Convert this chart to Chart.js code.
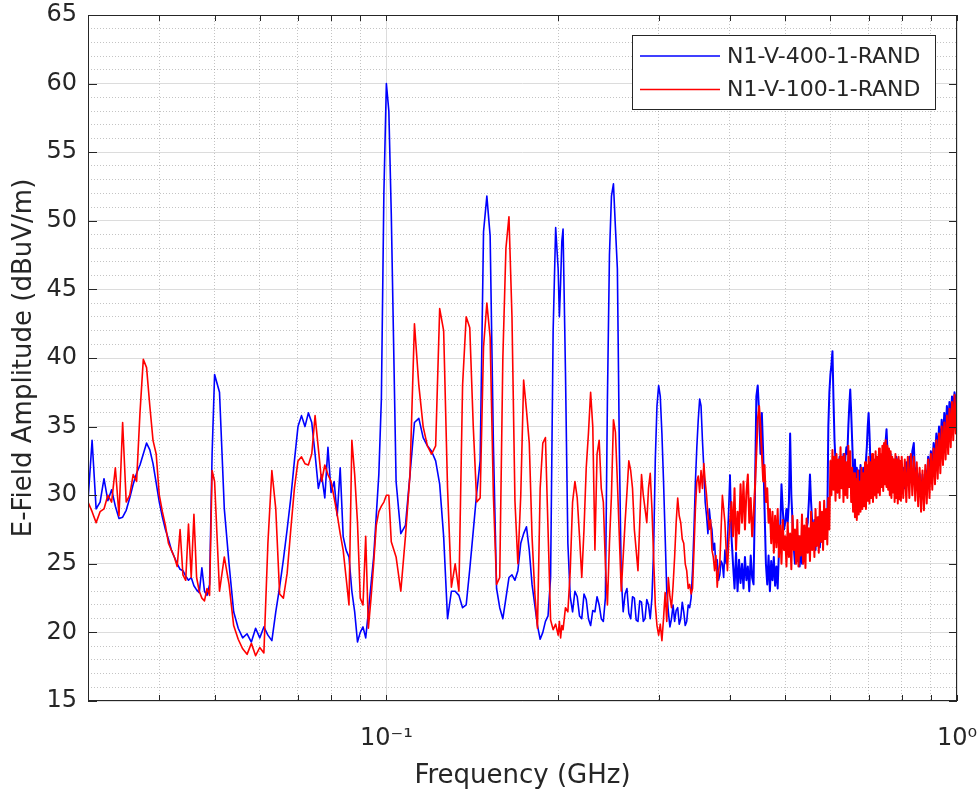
<!DOCTYPE html>
<html>
<head>
<meta charset="utf-8">
<title>E-Field spectrum</title>
<script src="https://cdn.jsdelivr.net/npm/chart.js@4.4.1/dist/chart.umd.min.js"></script>
<style>
  html, body { margin: 0; padding: 0; background: #fff; }
  #wrap { width: 978px; height: 793px; }
</style>
</head>
<body>
<div id="wrap"><canvas id="spectrumChart" width="978" height="793"></canvas></div>
<script>
// frequency points in MHz
const freqMHz = [
  30, 30.5, 31, 31.5, 32, 32.5, 33, 33.5, 34, 34.5,
  35, 35.5, 36, 36.5, 37, 37.5, 38, 38.5, 39, 39.5,
  40, 40.5, 41, 41.5, 42, 42.5, 43, 43.5, 44, 44.5,
  45, 45.5, 46, 46.5, 47, 47.5, 48, 48.5, 49, 49.5,
  50,
  51, 52, 53, 54, 55, 56, 57, 58, 59, 60,
  61, 62, 63, 64, 65, 66, 67, 68, 69, 70,
  71, 72, 73, 74, 75, 76, 77, 78, 79, 80,
  81, 82, 83, 84, 85, 86, 87, 88, 89, 90,
  91, 92, 93, 94, 95, 96, 97, 98, 99, 100,
  101,
  102, 104, 106, 108, 110, 112, 114, 116, 118, 120,
  122, 124, 126, 128, 130, 132, 134, 136, 138, 140,
  142, 144, 146, 148, 150, 152, 154, 156, 158, 160,
  162, 164, 166, 168, 170, 172, 174, 176, 178, 180,
  182, 184, 186, 188, 190, 192, 194, 196, 198, 200,
  201, 202, 203,
  204, 206, 208, 210, 212, 214, 216, 218, 220, 222,
  224, 226, 228, 230, 232, 234, 236, 238, 240, 242,
  244, 246, 248, 250, 252, 254, 256, 258, 260, 262,
  264, 266, 268, 270, 272, 274, 276, 278, 280, 282,
  284, 286, 288, 290, 292, 294, 296, 298, 300, 302,
  304, 306, 308, 310, 312, 314, 316, 318, 320, 322,
  324, 326, 328, 330, 332, 334, 336, 338, 340, 342,
  344, 346, 348, 350, 352, 354, 356, 358, 360, 362,
  364, 366, 368, 370, 372, 374, 376, 378, 380, 382,
  384, 386, 388, 390, 392, 394, 396, 398, 400,
  402.5, 405, 407.5, 410, 412.5, 415, 417.5, 420,
  422.5, 425, 427.5, 430, 432.5, 435, 437.5, 440,
  442.5, 445, 447.5, 450, 452.5, 455, 457.5, 460,
  462.5, 465, 467.5, 470, 472.5, 475, 477.5, 480,
  482.5, 485, 487.5, 490, 492.5, 495, 497.5, 500,
  502.5, 505, 507.5, 510, 512.5, 515, 517.5, 520,
  522.5, 525, 527.5, 530, 532.5, 535, 537.5, 540,
  542.5, 545, 547.5, 550, 552.5, 555, 557.5, 560,
  562.5, 565, 567.5, 570, 572.5, 575, 577.5, 580,
  582.5, 585, 587.5, 590, 592.5, 595, 597.5, 600,
  602.5, 605, 607.5, 610, 612.5, 615, 617.5, 620,
  622.5, 625, 627.5, 630, 632.5, 635, 637.5, 640,
  642.5, 645, 647.5, 650, 652.5, 655, 657.5, 660,
  662.5, 665, 667.5, 670, 672.5, 675, 677.5, 680,
  682.5, 685, 687.5, 690, 692.5, 695, 697.5, 700,
  702.5, 705, 707.5, 710, 712.5, 715, 717.5, 720,
  722.5, 725, 727.5, 730, 732.5, 735, 737.5, 740,
  742.5, 745, 747.5, 750, 752.5, 755, 757.5, 760,
  762.5, 765, 767.5, 770, 772.5, 775, 777.5, 780,
  782.5, 785, 787.5, 790, 792.5, 795, 797.5, 800,
  805, 810, 815, 820, 825, 830, 835, 840, 845, 850,
  855, 860, 865, 870, 875, 880, 885, 890, 895, 900,
  905, 910, 915, 920, 925, 930, 935, 940, 945, 950,
  955, 960, 965, 970, 975, 980, 985, 990, 995, 1000
];

// N1-V-400-1-RAND, dBuV/m
const blueDb = [
  29.6, 34.0, 29.0, 29.5, 31.2, 29.6, 30.4, 29.2, 28.3, 28.4,
  28.9, 29.8, 30.8, 31.6, 32.2, 33.0, 33.8, 33.3, 32.3, 30.9,
  29.5, 28.4, 27.5, 26.8, 26.0, 25.5, 25.0, 24.6, 24.5, 24.1,
  23.8, 24.0, 23.4, 23.1, 22.9, 24.7, 23.0, 22.7, 23.5, 33.0,
  38.8,
  37.5, 29.0, 25.0, 21.5, 20.3, 19.6, 19.9, 19.3, 20.3, 19.6,
  20.4, 19.8, 19.4, 21.5, 23.3, 25.3, 27.5, 29.8, 32.5, 35.0,
  35.8, 35.0, 36.0, 35.3, 33.0, 30.5, 31.5, 29.8, 33.5, 30.2,
  31.0, 28.5, 32.0, 27.0, 26.0, 25.5, 23.0, 21.5, 19.3, 20.0,
  20.4, 19.6, 21.5, 23.5, 25.5, 28.5, 31.5, 37.0, 52.0, 60.0,
  58.0,
  50.5, 31.0, 27.2, 27.8, 31.5, 35.3, 35.6, 34.2, 33.6, 33.2,
  32.5, 30.8, 27.0, 21.0, 23.0, 23.0, 22.7, 21.8, 22.0, 24.6,
  27.4, 30.2, 32.5, 49.2, 51.8, 48.9, 33.8, 23.2, 21.8, 21.0,
  22.5, 24.0, 24.2, 23.8, 24.5, 26.5, 27.2, 27.7, 26.0, 23.5,
  22.0, 20.5, 19.5, 20.0, 20.8, 21.2, 24.0, 42.0, 49.5, 46.5,
  43.0, 45.5, 48.5,
  49.4, 39.0, 26.5, 22.6, 21.5, 23.0, 22.6, 21.2, 21.0, 22.8,
  22.4, 21.0, 20.5, 21.6, 21.5, 22.6, 22.0, 21.0, 20.8, 22.5,
  37.0, 47.5, 51.8, 52.7, 49.5, 46.5, 33.5, 24.0, 21.5, 22.8,
  23.2, 21.4, 21.0, 22.6, 22.5, 20.9, 20.8, 22.3, 22.2, 20.8,
  21.0, 22.4, 22.0, 21.0, 22.5, 26.0, 32.6, 36.5, 38.0, 37.2,
  34.5, 31.0, 27.0, 23.0, 21.5, 20.4, 21.0, 22.0, 20.8, 21.6,
  21.8, 20.6, 21.0, 22.2, 21.5, 20.5, 20.8, 22.0, 21.8, 22.5,
  24.5, 27.5, 31.0, 33.5, 35.5, 37.0, 36.5, 34.0, 32.0, 29.5,
  28.5, 27.2, 29.0, 28.0, 27.5, 26.0, 26.5, 24.8, 25.3, 23.8,
  24.2, 25.2, 25.0, 24.0, 26.0, 25.0, 26.5, 29.0, 31.5,
  27.0, 25.0, 23.2, 25.8, 23.0, 25.3, 23.6, 25.0,
  23.2, 25.5, 23.8, 24.8, 23.0, 25.6, 24.0, 23.5,
  30.0, 37.2, 38.0, 36.0, 33.0, 36.0, 33.0, 29.0,
  25.0, 23.5, 25.6, 23.0, 25.2, 23.8, 25.5, 23.4,
  24.8, 23.2, 26.0, 27.5, 30.8, 29.0, 27.5, 28.0,
  29.0, 28.0, 29.5, 34.5, 30.0, 28.0, 26.2, 25.0,
  26.8, 25.2, 27.0, 24.8, 26.5, 25.0, 27.2, 25.2,
  26.6, 27.5, 28.0, 29.5, 31.5, 29.5, 28.0, 26.5,
  28.2, 26.0, 28.0, 26.5, 28.4, 26.2, 28.2, 26.6,
  28.5, 26.8, 28.3, 27.0, 28.0, 35.0, 37.5, 38.8,
  39.5, 40.5, 37.0, 34.0, 32.5, 31.0, 30.2, 31.8,
  32.8, 31.0, 32.5, 30.8, 33.0, 30.6, 32.8, 33.5,
  33.0, 35.0, 36.5, 37.7, 36.0, 34.0, 32.0, 31.0,
  32.6, 30.5, 32.0, 30.0, 31.8, 30.4, 32.2, 30.2,
  31.5, 32.0, 30.6, 31.0, 32.5, 33.5, 35.0, 36.0,
  34.5, 32.5, 31.0, 32.8, 31.0, 32.6, 30.8, 31.2,
  32.8, 30.8, 32.5, 31.0, 33.0, 31.2, 32.8, 31.6,
  32.8, 33.5, 33.0, 34.0, 34.8, 33.5, 32.5, 32.8,
  31.6, 33.0, 31.5, 32.6, 30.8, 32.6, 31.2, 31.0,
  32.8, 32.5, 30.8, 32.6, 30.8, 32.2, 30.6, 31.8,
  32.0, 30.5, 32.4, 31.0, 32.8, 31.2, 33.2, 33.8, 31.0, 32.0,
  30.4, 31.6, 30.0, 31.5, 29.8, 31.8, 31.0, 32.8, 31.5, 33.2,
  32.0, 33.8, 32.5, 34.5, 33.0, 35.0, 33.5, 35.5, 34.0, 36.0,
  34.5, 36.5, 35.0, 36.8, 35.5, 37.2, 36.0, 37.5, 36.4, 37.5
];

// N1-V-100-1-RAND, dBuV/m
const redDb = [
  29.5, 28.8, 28.0, 28.8, 29.0, 30.0, 29.5, 32.0, 28.5, 35.3,
  29.5, 30.0, 31.5, 31.0, 36.0, 39.9, 39.3, 36.5, 34.0, 33.0,
  30.0, 28.8, 27.8, 26.5, 26.0, 25.5, 24.8, 27.5, 24.2, 23.8,
  27.9, 24.0, 28.6, 24.0, 23.0, 22.5, 22.3, 23.2, 22.7, 31.8,
  31.0,
  23.0, 25.5, 23.5, 20.5, 19.5, 18.8, 18.4, 19.2, 18.3, 18.9,
  18.5, 26.5, 31.8, 29.0, 22.8, 22.5, 24.3, 27.5, 30.5, 32.5,
  32.8, 32.3, 32.2, 33.0, 35.8, 33.4, 31.0, 32.2, 31.5, 31.0,
  29.8, 28.6, 27.2, 26.0, 24.0, 22.0, 34.0, 31.5, 28.0, 22.5,
  22.0, 27.0, 20.3, 22.5, 25.0, 27.8, 28.8, 29.2, 29.5, 30.0,
  30.0,
  26.6, 25.5, 23.0, 27.0, 31.5, 42.5, 38.0, 35.0, 33.6, 33.0,
  33.6, 43.6, 42.0, 30.5, 23.3, 25.0, 23.0, 38.0, 43.0, 42.2,
  35.0, 29.5, 29.8, 40.8, 44.0, 41.5, 30.0, 23.5, 24.0, 40.0,
  48.0, 50.3, 43.0, 29.6, 25.0, 30.0, 38.4, 36.2, 33.8, 27.0,
  22.9, 20.3, 30.5, 33.8, 34.2, 27.5, 20.9, 20.2, 20.6, 19.8,
  20.8, 19.6, 20.5,
  20.2, 21.8, 21.5, 24.5, 29.5, 31.0, 29.8, 27.0, 24.0, 27.5,
  32.0, 34.5, 37.5, 35.0, 26.0, 33.0, 34.0, 30.5, 29.5, 25.0,
  22.0, 26.5, 30.0, 35.5, 34.6, 31.0, 27.0, 23.0, 25.5, 28.0,
  30.2, 32.5, 31.8, 30.5, 27.5, 26.0, 24.5, 28.0, 31.5, 30.0,
  29.0, 28.0, 30.5, 31.6, 29.0, 25.5, 22.0, 20.5, 19.8, 20.6,
  19.4, 21.0, 22.9, 20.8, 24.0, 22.6, 21.8, 23.4, 25.5, 28.0,
  29.8, 28.5, 28.0, 26.8, 26.5, 25.0, 24.5, 23.2, 23.5, 22.8,
  23.2, 26.0, 29.0, 31.0, 31.4, 30.2, 31.8, 30.5, 32.3, 31.0,
  30.0, 28.6, 27.5, 28.2, 26.0, 25.5, 24.5, 25.6, 23.3, 24.5,
  25.0, 27.5, 30.0, 29.0, 28.0, 26.0, 24.5, 26.5, 28.0,
  29.5, 27.0, 30.5, 26.0, 28.8, 27.2, 30.8, 28.0,
  31.0, 27.5, 30.2, 31.5, 28.0, 29.8, 27.0, 28.5,
  30.5, 33.0, 35.5, 36.5, 35.0, 33.0, 31.0, 32.2,
  29.5, 30.5, 28.0, 29.0, 26.5, 28.8, 25.8, 28.5,
  26.2, 29.0, 25.5, 27.8, 25.0, 28.2, 26.0, 27.0,
  24.8, 28.0, 25.5, 27.2, 24.6, 28.5, 26.0, 27.5,
  25.0, 28.2, 24.8, 27.0, 25.6, 28.6, 25.0, 27.8,
  24.7, 28.3, 25.8, 27.6, 25.2, 28.8, 26.0, 28.0,
  25.5, 29.0, 26.3, 28.4, 25.8, 29.5, 26.6, 28.8,
  26.0, 29.6, 26.8, 29.0, 26.4, 29.8, 27.5, 32.5,
  30.0, 33.3, 30.4, 32.8, 29.6, 33.0, 30.2, 32.6,
  29.8, 33.5, 30.5, 32.8, 29.5, 33.0, 30.0, 32.4,
  29.8, 33.6, 30.6, 33.2, 29.5, 32.0, 28.8, 31.6,
  28.4, 31.2, 28.2, 31.8, 28.6, 31.0, 28.8, 32.0,
  29.0, 31.6, 29.2, 32.4, 29.0, 32.2, 29.6, 32.8,
  29.4, 32.4, 29.8, 33.0, 29.5, 32.6, 30.0, 33.2,
  29.8, 32.8, 30.2, 33.4, 30.0, 33.0, 30.6, 33.6,
  30.3, 33.8, 30.8, 34.0, 30.6, 33.6, 30.4, 33.4,
  30.0, 33.2, 29.8, 32.8, 30.2, 32.6, 29.5, 33.0,
  29.8, 32.6, 29.4, 32.8, 29.7, 32.5, 29.6, 32.8,
  29.8, 32.6, 29.5, 32.8, 29.8, 33.0, 30.0, 32.8, 29.6, 32.4,
  29.2, 32.0, 28.8, 31.8, 28.9, 32.2, 29.4, 32.6, 29.8, 33.0,
  30.4, 33.4, 30.8, 34.0, 31.2, 34.5, 31.6, 35.0, 32.2, 35.3,
  32.6, 35.8, 33.0, 36.3, 33.5, 36.8, 34.0, 37.3, 34.5, 37.0
];

const seriesLabels = ['N1-V-400-1-RAND', 'N1-V-100-1-RAND'];
const seriesColors = ['#0000ff', '#ff0000'];

// axis ticks (GHz)
const xGridValues = [0.03, 0.04, 0.05, 0.06, 0.07, 0.08, 0.09, 0.1, 0.2, 0.3, 0.4, 0.5, 0.6, 0.7, 0.8, 0.9, 1];
const xMajorValues = [0.1, 1];
const xMajorLabels = ['10\u207B\u00B9', '10\u2070'];

if (blueDb.length !== freqMHz.length || redDb.length !== freqMHz.length) {
  throw new Error('length mismatch ' + freqMHz.length + ' / ' + blueDb.length + ' / ' + redDb.length);
}

const inkColor = '#262626';
const majorGrid = '#dcdcdc';
const minorGrid = 'rgba(38,38,38,0.27)';
Chart.defaults.font.family = '"DejaVu Sans", "Liberation Sans", sans-serif';
Chart.defaults.color = inkColor;

const isMajorX = v => xMajorValues.some(m => Math.abs(m - v) < 1e-9);

function toPoints(vals) {
  return freqMHz.map((f, i) => ({ x: f / 1000, y: vals[i] }));
}

function setXTicks(axis) {
  axis.ticks = xGridValues.map(v => ({ value: v }));
}

// the dense sweep above ~400 MHz reads as a solid band
const traceWidth = c => (c.p0.parsed.x >= 0.4 ? 2 : 1.6);

// keep the plot box where matlab put it
function fixHeight(h) {
  return s => { s.height = h; s.paddingLeft = 0; s.paddingRight = 0; };
}
function fixWidth(w) {
  return s => { s.width = w; s.paddingTop = 0; s.paddingBottom = 0; };
}

// box, inward tick marks and legend (matlab style)
const matlabFrame = {
  id: 'matlabFrame',
  afterDatasetsDraw(chart) {
    const { ctx, chartArea: a, scales } = chart;
    ctx.save();
    ctx.strokeStyle = inkColor;
    ctx.lineWidth = 1;
    ctx.beginPath();
    xGridValues.forEach(v => {
      const px = Math.round(scales.x.getPixelForValue(v)) + 0.5;
      ctx.moveTo(px, a.bottom); ctx.lineTo(px, a.bottom - 6);
      ctx.moveTo(px, a.top); ctx.lineTo(px, a.top + 6);
    });
    scales.y.ticks.forEach(t => {
      const py = Math.round(scales.y.getPixelForValue(t.value)) + 0.5;
      ctx.moveTo(a.left, py); ctx.lineTo(a.left + 9, py);
      ctx.moveTo(a.right, py); ctx.lineTo(a.right - 8, py);
    });
    ctx.stroke();
    ctx.strokeRect(Math.round(a.left) + 0.5, Math.round(a.top) + 0.5, Math.round(a.width) - 1, Math.round(a.height) - 1);

    // legend
    const box = { left: 632, top: 35, width: 303, height: 74 };
    ctx.fillStyle = '#fff';
    ctx.fillRect(box.left, box.top, box.width, box.height);
    ctx.strokeStyle = inkColor;
    ctx.strokeRect(box.left + 0.5, box.top + 0.5, box.width, box.height);
    ctx.font = '22px "DejaVu Sans", sans-serif';
    ctx.textBaseline = 'middle';
    ctx.textAlign = 'left';
    seriesLabels.forEach((lab, i) => {
      const cy = 56 + i * 33.5;
      ctx.strokeStyle = seriesColors[i];
      ctx.lineWidth = 1.5;
      ctx.beginPath();
      ctx.moveTo(640, cy); ctx.lineTo(720, cy);
      ctx.stroke();
      ctx.fillStyle = inkColor;
      ctx.fillText(lab, 727, cy + 1);
    });
    ctx.restore();
  }
};

const ctxSpectrum = document.getElementById('spectrumChart').getContext('2d');

const spectrumChart = new Chart(ctxSpectrum, {
  type: 'line',
  data: {
    datasets: [
      {
        label: seriesLabels[0],
        data: toPoints(blueDb),
        borderColor: seriesColors[0],
        borderWidth: 1.6,
        segment: { borderWidth: traceWidth },
        pointRadius: 0,
        borderJoinStyle: 'round',
        tension: 0,
        order: 1
      },
      {
        label: seriesLabels[1],
        data: toPoints(redDb),
        borderColor: seriesColors[1],
        borderWidth: 1.6,
        segment: { borderWidth: traceWidth },
        pointRadius: 0,
        borderJoinStyle: 'round',
        tension: 0,
        order: 0
      }
    ]
  },
  options: {
    responsive: false,
    animation: false,
    layout: { padding: { left: 0, right: 21, top: 15, bottom: 0 } },
    plugins: {
      legend: { display: false },
      tooltip: { enabled: false }
    },
    scales: {
      x: {
        type: 'logarithmic',
        position: 'bottom',
        min: 0.03,
        max: 1,
        afterBuildTicks: setXTicks,
        afterFit: fixHeight(92),
        ticks: {
          autoSkip: false,
          maxRotation: 0,
          padding: 23,
          color: inkColor,
          font: { size: 24 },
          callback: v => {
            const k = xMajorValues.findIndex(m => Math.abs(m - v) < 1e-9);
            return k >= 0 ? xMajorLabels[k] : '';
          }
        },
        grid: {
          drawTicks: false,
          lineWidth: 1,
          color: c => (c.tick && isMajorX(c.tick.value)) ? majorGrid : 'rgba(0,0,0,0)'
        },
        border: { display: false },
        title: {
          display: true,
          text: 'Frequency (GHz)',
          color: inkColor,
          font: { size: 26, lineHeight: 1.2 },
          padding: { top: 0, bottom: 1 }
        }
      },
      xMinor: {
        type: 'logarithmic',
        position: 'bottom',
        min: 0.03,
        max: 1,
        afterBuildTicks: setXTicks,
        afterFit: fixHeight(0),
        ticks: { display: false },
        grid: {
          drawTicks: false,
          lineWidth: 1,
          color: c => (c.tick && !isMajorX(c.tick.value)) ? minorGrid : 'rgba(0,0,0,0)'
        },
        border: { display: false, dash: [1, 2] }
      },
      y: {
        type: 'linear',
        position: 'left',
        min: 15,
        max: 65,
        afterFit: fixWidth(88),
        ticks: {
          stepSize: 5,
          padding: 11,
          color: inkColor,
          font: { size: 24 }
        },
        grid: { drawTicks: false, lineWidth: 1, color: majorGrid },
        border: { display: false },
        title: {
          display: true,
          text: 'E-Field Amplitude (dBuV/m)',
          color: inkColor,
          font: { size: 26, lineHeight: 1.2 },
          padding: { top: 9, bottom: 0 }
        }
      },
      yMinor: {
        type: 'linear',
        position: 'left',
        min: 15,
        max: 65,
        afterFit: fixWidth(0),
        ticks: { display: false, stepSize: 1 },
        grid: {
          drawTicks: false,
          lineWidth: 1,
          color: c => (c.tick && c.tick.value % 5 !== 0) ? minorGrid : 'rgba(0,0,0,0)'
        },
        border: { display: false, dash: [1, 2] }
      }
    }
  },
  plugins: [matlabFrame]
});
</script>
</body>
</html>
